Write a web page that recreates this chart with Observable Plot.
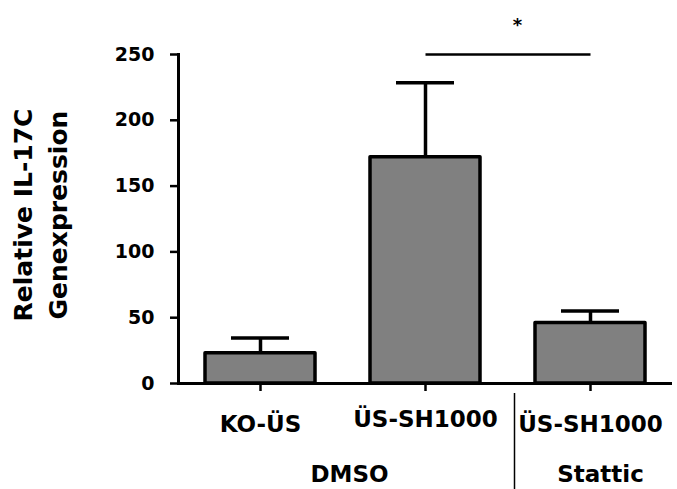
<!DOCTYPE html>
<html><head><meta charset="utf-8">
<script src="https://cdn.jsdelivr.net/npm/d3@7"></script>
<script src="https://cdn.jsdelivr.net/npm/@observablehq/plot@0.6"></script>
<style>body{margin:0;background:#fff}</style>
</head><body><div id="chart"></div>
<script>
const groups = ["KO-ÜS", "ÜS-SH1000", "ÜS-SH1000"];
const treatments = ["DMSO", "DMSO", "Stattic"];
const means = [23, 172, 46];
const sems = [11.5, 56.5, 9];
const yTicks = [0, 50, 100, 150, 200, 250];
const yLabel = "Relative IL-17C\nGenexpression";
const sigPair = [1, 2];
const sigLevel = 250;
const sigText = "*";

const keys = groups.map((g, i) => g + "|" + treatments[i]);
const data = groups.map((g, i) => ({key: keys[i], group: g, treatment: treatments[i], mean: means[i], top: means[i] + sems[i]}));
const fmt = k => k.split("|")[0];

const chart = Plot.plot({
  width: 677, height: 489,
  marginLeft: 178, marginRight: 5, marginTop: 54, marginBottom: 106,
  style: {fontFamily: "DejaVu Sans", fontWeight: "bold", fontSize: "19px", color: "#000", background: "#fff", overflow: "visible"},
  x: {domain: keys, paddingInner: 1/3, paddingOuter: 0.163, align: 0.5},
  y: {domain: [0, 250]},
  marks: [
    Plot.barY(data, {x: "key", y: "mean", fill: "#808080", stroke: "#000", strokeWidth: 3.5, strokeLinejoin: "round"}),
    Plot.ruleX(data, {x: "key", y1: "mean", y2: "top", stroke: "#000", strokeWidth: 3.5}),
    Plot.tickY(data, {x: "key", y: "top", stroke: "#000", strokeWidth: 3.5, insetLeft: 26, insetRight: 26}),
    Plot.ruleY([0], {stroke: "#000", strokeWidth: 3}),
    Plot.frame({anchor: "left", stroke: "#000", strokeWidth: 3}),
    Plot.axisY(yTicks, {tickSize: 8, tickPadding: 16, strokeWidth: 2.5, label: null, fontSize: 19, fontWeight: "bold"}),
    Plot.axisX([keys[0], keys[2]], {tickSize: 8, tickPadding: 24, strokeWidth: 2.5, tickFormat: fmt, label: null, fontSize: 23, fontWeight: "bold"}),
    Plot.axisX([keys[1]], {tickSize: 8, tickPadding: 19, strokeWidth: 2.5, tickFormat: fmt, label: null, fontSize: 23, fontWeight: "bold"}),
    Plot.ruleX([keys[2]], {x: d => d, dx: -76, insetTop: 339, insetBottom: -106, stroke: "#000", strokeWidth: 1.5}),
    Plot.text([treatments[1]], {x: () => keys[1], text: d => d, frameAnchor: "bottom", lineAnchor: "top", dy: 82, dx: -76, fontSize: 23, fontWeight: "bold"}),
    Plot.text([treatments[2]], {x: () => keys[2], text: d => d, frameAnchor: "bottom", lineAnchor: "top", dy: 82, dx: 10, fontSize: 23, fontWeight: "bold"}),
    Plot.text([yLabel], {text: d => d, frameAnchor: "left", textAnchor: "middle", rotate: -90, lineAnchor: "top", dx: -171, dy: -4, fontSize: 25, lineHeight: 1.4, fontWeight: "bold"}),
    Plot.link([sigLevel], {x1: () => keys[sigPair[0]], x2: () => keys[sigPair[1]], y1: d => d, y2: d => d, stroke: "#000", strokeWidth: 2.5}),
    Plot.text([sigText], {x: () => keys[sigPair[1]], y: () => sigLevel, text: d => d, dx: -73, dy: -29, fontSize: 18, fontWeight: "bold"})
  ]
});
document.getElementById("chart").appendChild(chart);
</script>
</body></html>
